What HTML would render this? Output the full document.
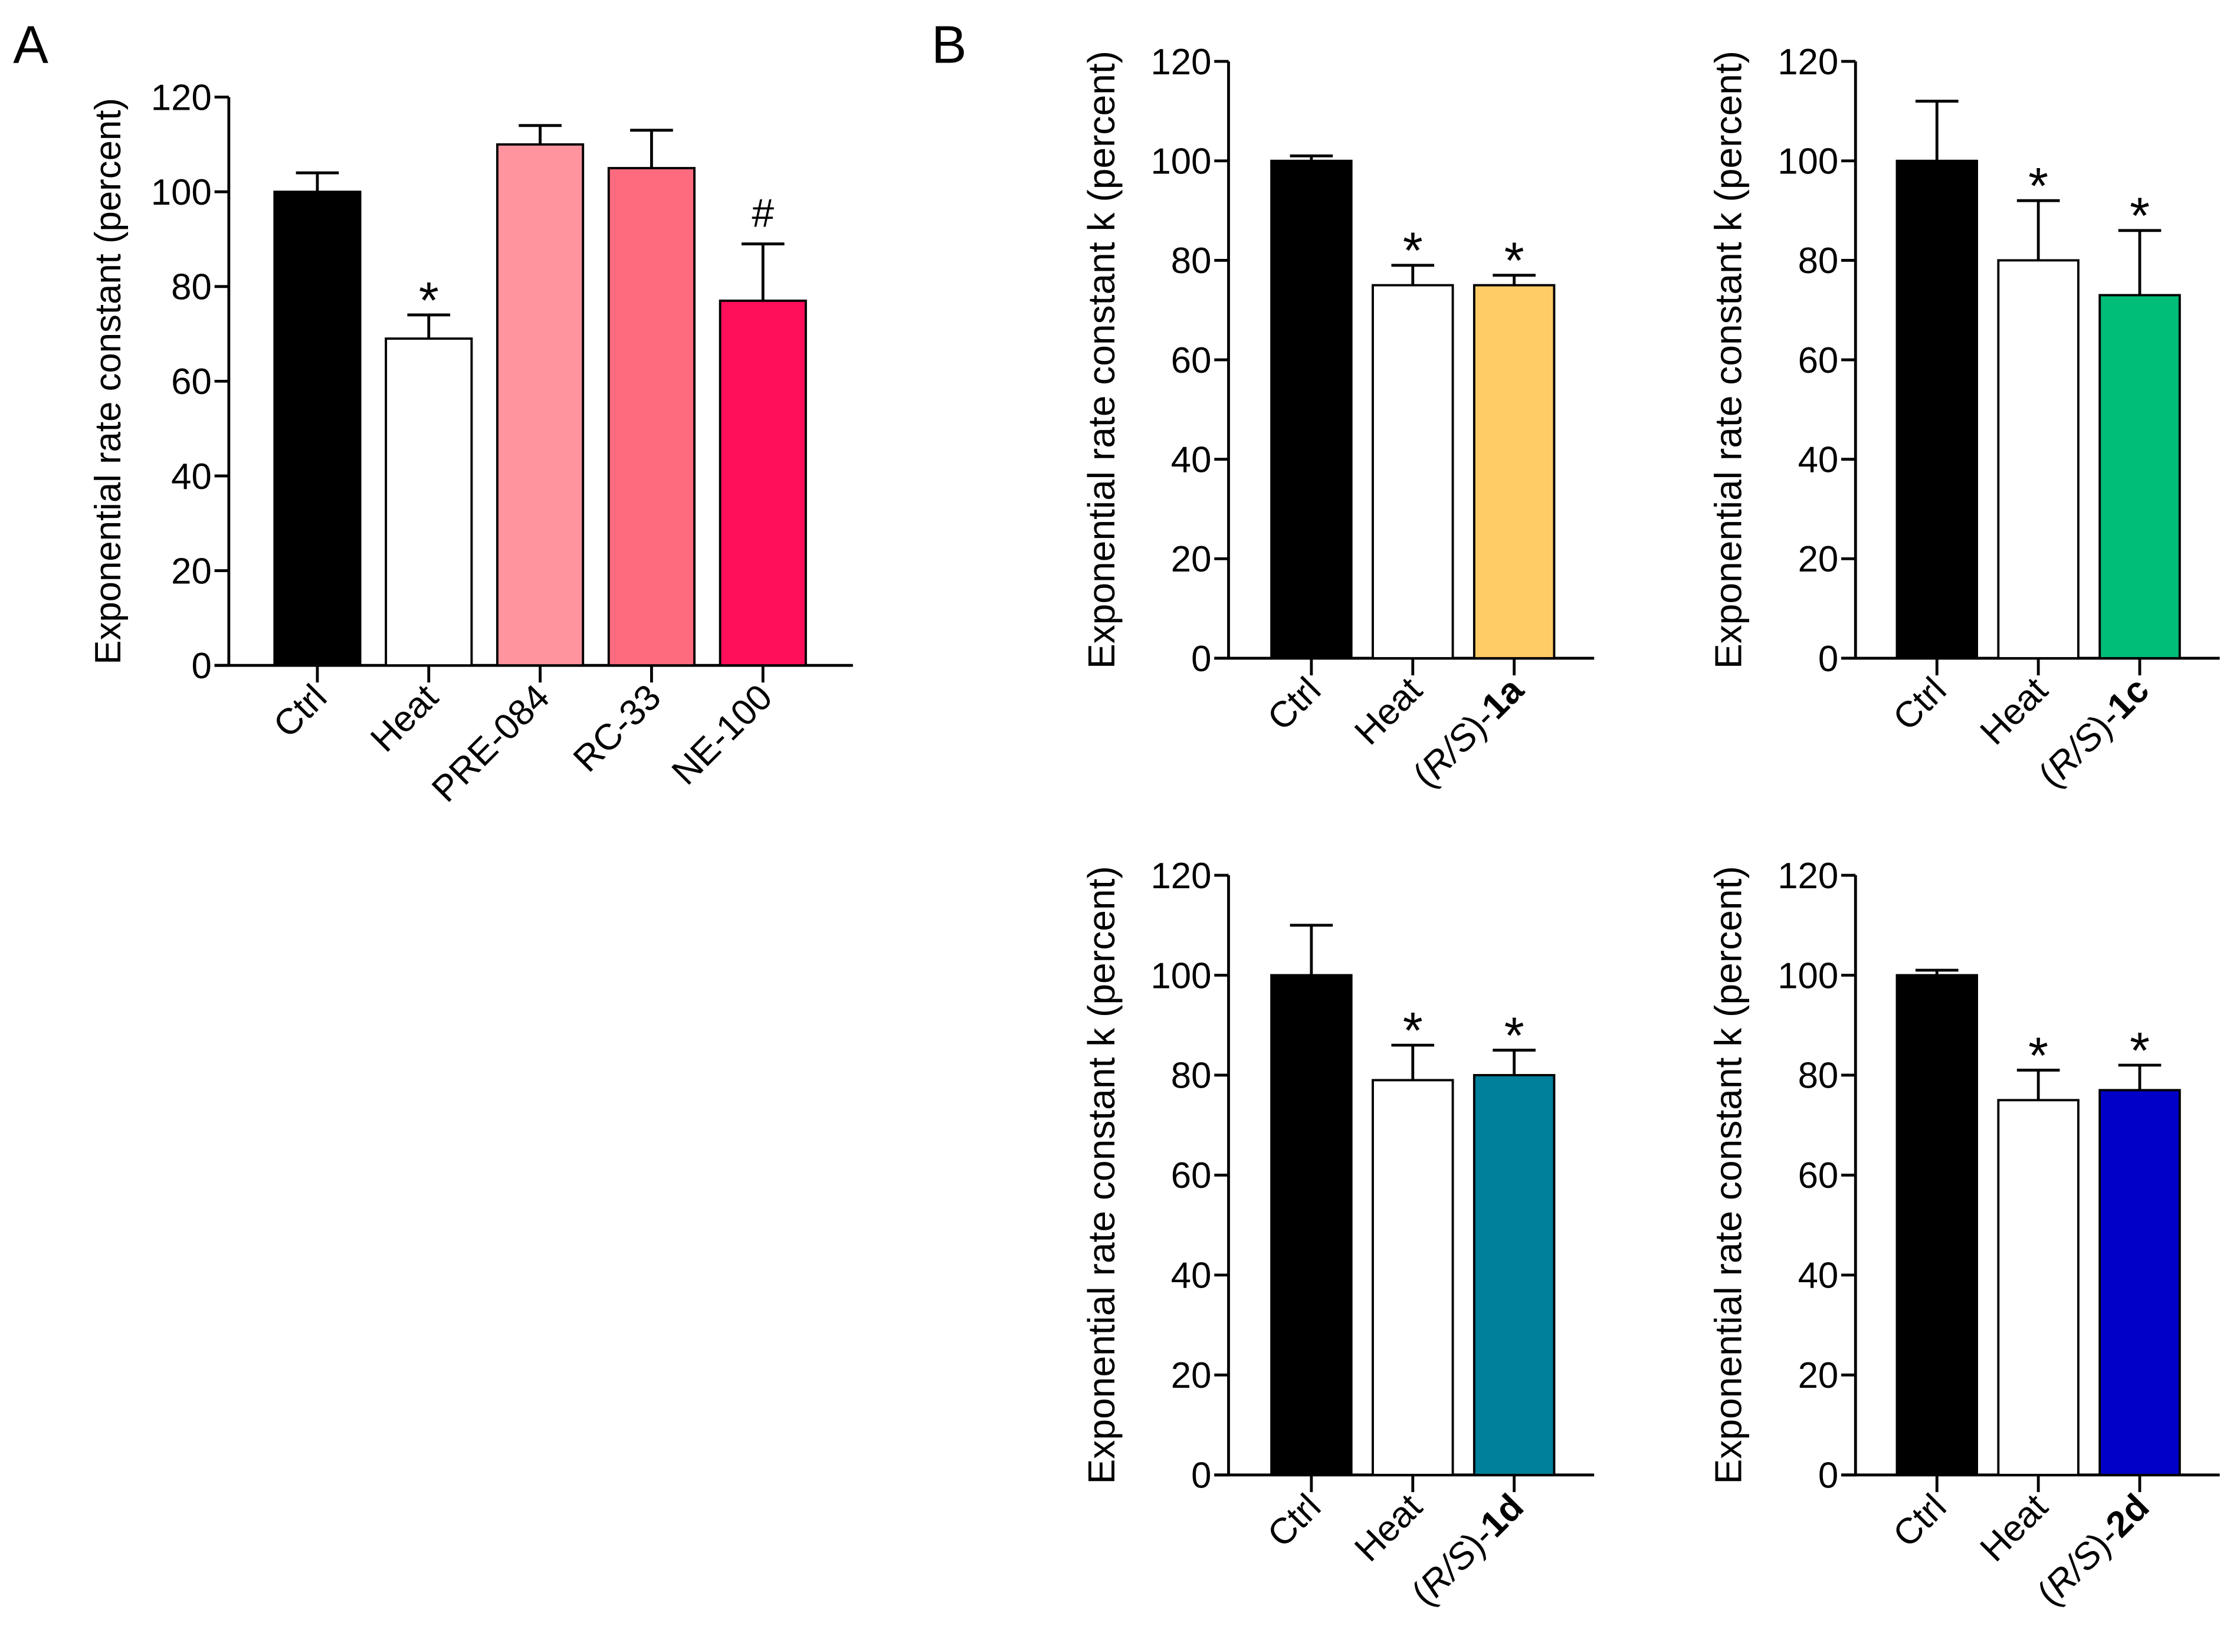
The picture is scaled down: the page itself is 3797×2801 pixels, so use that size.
<!DOCTYPE html>
<html><head><meta charset="utf-8"><style>
html,body{margin:0;padding:0;background:#fff;}
svg{display:block;font-family:"Liberation Sans",Arial,sans-serif;}
</style></head><body>
<svg id="fig" xmlns="http://www.w3.org/2000/svg" width="3797" height="2801" viewBox="0 0 1568 1157">
<rect width="1568" height="1157" fill="#fff"/>
<text x="9" y="44" font-size="37">A</text>
<text x="652" y="44" font-size="37">B</text>
</svg>
<script>
const catsA=["Ctrl","Heat","PRE-084","RC-33","NE-100"];
const valsA=[100,69,110,105,77];
const errsA=[4,5,4,8,12];
const sigA=["","*","","","#"];
const colsA=["#000000","#ffffff","#ff949e","#ff6b7e","#ff0e5a"];

const catsB=["Ctrl","Heat","(R/S)-"];
const valsB1=[100,75,75];const errsB1=[1,4,2];const sigB1=["","*","*"];
const valsB2=[100,80,73];const errsB2=[12,12,13];const sigB2=["","*","*"];
const valsB3=[100,79,80];const errsB3=[10,7,5];const sigB3=["","*","*"];
const valsB4=[100,75,77];const errsB4=[1,6,5];const sigB4=["","*","*"];
const yTicks=[0,20,40,60,80,100,120];

const svg=document.getElementById('fig');
const NS="http://www.w3.org/2000/svg";
function mk(tag,attrs,parent,text){const e=document.createElementNS(NS,tag);for(const k in attrs)e.setAttribute(k,attrs[k]);if(text!==undefined)e.textContent=text;(parent||svg).appendChild(e);return e;}

function panel(o){
  const g=mk('g',{});
  
  
  const y=v=>o.y0-(v/120)*(o.y0-o.y120);
  const ax=mk('line',{x1:o.ax,y1:o.y120,x2:o.ax,y2:o.y0,stroke:'#000','stroke-width':2},g);
  
  const xa=mk('line',{x1:o.ax-10,y1:o.y0,x2:o.xend,y2:o.y0,stroke:'#000','stroke-width':2},g);
  
  yTicks.forEach(t=>{
    mk('line',{x1:o.ax-10,y1:y(t),x2:o.ax,y2:y(t),stroke:'#000','stroke-width':2},g);
    const tl=mk('text',{x:o.ax-12,y:y(t)+9,'font-size':25.5,'text-anchor':'end'},g,String(t));
    
  });
  const cy=(o.y0+o.y120)/2;
  const tx=o.ax-o.tOff;
  const yt=mk('text',{x:tx,y:cy,'font-size':o.tSize,'text-anchor':'middle',transform:`rotate(-90 ${tx} ${cy})`},g,o.ylabel);
  
  o.vals.forEach((v,i)=>{
    const x0=o.bx0+i*o.step, cx=x0+o.bw/2;
    const top=y(v), et=y(v+o.errs[i]);
    mk('line',{x1:cx,y1:top,x2:cx,y2:et,stroke:'#000','stroke-width':2},g);
    mk('line',{x1:cx-15,y1:et,x2:cx+15,y2:et,stroke:'#000','stroke-width':2},g);
    const b=mk('rect',{x:x0,y:top,width:o.bw,height:o.y0-top,fill:o.cols[i],stroke:'#000','stroke-width':1.6},g);
    
    mk('line',{x1:cx,y1:o.y0,x2:cx,y2:o.y0+12,stroke:'#000','stroke-width':2},g);
    if(o.sig[i]){const s=mk('text',{x:cx,y:et-(o.sig[i]=='*'?-2:12),'font-size':o.sig[i]=='*'?36:28,'text-anchor':'middle'},g,o.sig[i]);
      }
    const lx=cx+8, ly=o.y0+24;
    const t=mk('text',{x:lx,y:ly,'font-size':25.5,'text-anchor':'end',transform:`rotate(-45 ${lx} ${ly})`},g);
    
    if(o.suffix && i==2){
      mk('tspan',{},t,'(');mk('tspan',{'font-style':'italic'},t,'R/S');mk('tspan',{},t,')-');
      mk('tspan',{'font-weight':'bold'},t,o.suffix);
    } else t.textContent=o.cats[i];
  });
}
panel({name:'panel-a-chart',ax:160,y0:466,y120:68,xend:597,bx0:192,step:78,bw:60,vals:valsA,errs:errsA,sig:sigA,cols:colsA,cats:catsA,tOff:76,tSize:25.5,ylabel:'Exponential rate constant (percent)'});
const yl='Exponential rate constant k (percent)';
panel({name:'panel-b-1a',ax:860,y0:461,y120:43,xend:1116,bx0:890,step:71,bw:56,vals:valsB1,errs:errsB1,sig:sigB1,cols:['#000','#fff','#ffcc66'],cats:catsB,suffix:'1a',tOff:80,tSize:26.5,ylabel:yl});
panel({name:'panel-b-1c',ax:1299,y0:461,y120:43,xend:1554,bx0:1328,step:71,bw:56,vals:valsB2,errs:errsB2,sig:sigB2,cols:['#000','#fff','#00be78'],cats:catsB,suffix:'1c',tOff:80,tSize:26.5,ylabel:yl});
panel({name:'panel-b-1d',ax:860,y0:1033,y120:613,xend:1116,bx0:890,step:71,bw:56,vals:valsB3,errs:errsB3,sig:sigB3,cols:['#000','#fff','#00809b'],cats:catsB,suffix:'1d',tOff:80,tSize:26.5,ylabel:yl});
panel({name:'panel-b-2d',ax:1299,y0:1033,y120:613,xend:1554,bx0:1328,step:71,bw:56,vals:valsB4,errs:errsB4,sig:sigB4,cols:['#000','#fff','#0000c8'],cats:catsB,suffix:'2d',tOff:80,tSize:26.5,ylabel:yl});
</script>
</body></html>
